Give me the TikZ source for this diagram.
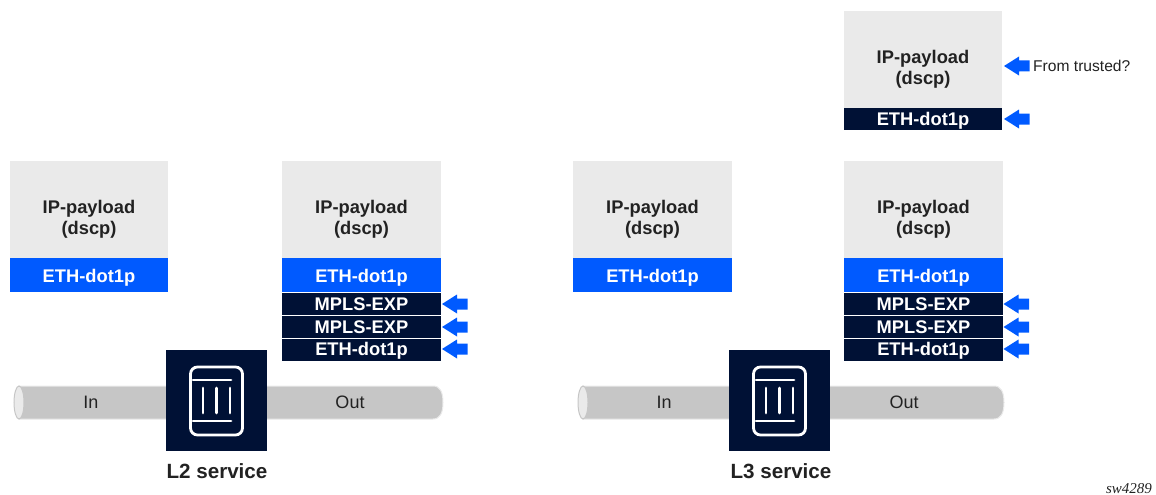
\documentclass[tikz,border=0pt]{standalone}
\usepackage{fontspec}
\setmainfont{Liberation Sans}
\newfontfamily\serifit{Liberation Serif}
\definecolor{navy}{HTML}{001135}
\definecolor{bblue}{HTML}{005AFF}
\definecolor{lgray}{HTML}{EAEAEA}
\definecolor{pipeg}{HTML}{C6C6C6}
\definecolor{txt}{HTML}{222222}
\newcommand{\lowerstrut}{\rule{0pt}{33pt}}
\tikzset{
  x=1pt,y=-1pt,
  blk/.style={inner sep=0pt,outer sep=0pt,minimum width=158.5pt,align=center,font=\fontsize{18.3pt}{21.5pt}\selectfont\bfseries},
  payload/.style={blk,fill=lgray,text=txt,minimum height=97pt},
  bluebar/.style={blk,fill=bblue,text=white,minimum height=34pt,text height=15pt,text depth=0pt},
  navytall/.style={blk,fill=navy,text=white,minimum height=22.5pt,text height=13pt,text depth=0pt},
  navylow/.style={navytall,text height=11pt},
  device/.style={fill=navy,minimum width=101pt,minimum height=101pt,inner sep=0pt,outer sep=0pt},
  caption/.style={inner sep=0pt,text=txt,font=\fontsize{20.6pt}{24pt}\selectfont\bfseries},
  pipelabel/.style={inner sep=0pt,text=txt,font=\fontsize{18pt}{20pt}\selectfont},
  note/.style={inner sep=0pt,text=txt,font=\fontsize{15.6pt}{18pt}\selectfont},
  icon/.style={draw=white,line width=2.8pt,line cap=round},
  pipebody/.style={fill=pipeg,draw=lgray,line width=1pt},
  pipeend/.style={fill=lgray,draw=pipeg,line width=1pt},
  pics/leftarrow/.style={code={
    \fill[bblue] (0,0) -- (15,-9.5) -- (15,-5.5) -- (25.5,-5.5) -- (25.5,5.5) -- (15,5.5) -- (15,9.5) -- cycle;
  }},
  pics/switch/.style={code={
    \draw[icon,rounded corners=7pt] (-26,-33.5) rectangle (26,34.5);
    \draw[icon] (-23.5,-20.5) -- (14.5,-20.5);
    \draw[icon] (-23.5,20.5) -- (14.5,20.5);
    \draw[icon] (-13.5,-12.5) -- (-13.5,12.5);
    \draw[icon] (0,-12.5) -- (0,12.5);
    \draw[icon] (13.5,-12.5) -- (13.5,12.5);
  }},
}
\begin{document}
\begin{tikzpicture}
\useasboundingbox (0,0) rectangle (1156,495);

% ---- pipes
\path[pipebody] (19,386) -- (433,386) .. controls (440,386) and (443,392) .. (443,402.5)
  .. controls (443,413) and (440,419) .. (433,419) -- (19,419) -- cycle;
\path[pipeend] (19,402.5) ellipse [x radius=5, y radius=16.5];
\path[pipebody] (583,386) -- (994,386) .. controls (1001,386) and (1004,392) .. (1004,402.5)
  .. controls (1004,413) and (1001,419) .. (994,419) -- (583,419) -- cycle;
\path[pipeend] (583,402.5) ellipse [x radius=5, y radius=16.5];
\node[pipelabel] (inA) at (91,402) {In};
\node[pipelabel] (outA) at (350,402) {Out};
\node[pipelabel] (inB) at (664,402) {In};
\node[pipelabel] (outB) at (904,402) {Out};

% ---- L2 stacks
\node[payload] (pa) at (89,209.5) {\lowerstrut IP-payload\\(dscp)};
\node[bluebar] (ba) at (89,275) {ETH-dot1p};
\node[payload] (pb) at (361.5,209.5) {\lowerstrut IP-payload\\(dscp)};
\node[bluebar] (bb) at (361.5,275) {ETH-dot1p};
\node[navytall] (mb1) at (361.5,304) {MPLS-EXP};
\node[navytall] (mb2) at (361.5,327) {MPLS-EXP};
\node[navylow] (eb) at (361.5,350) {ETH-dot1p};

% ---- L3 stacks
\node[payload] (pc) at (652.5,209.5) {\lowerstrut IP-payload\\(dscp)};
\node[bluebar] (bc) at (652.5,275) {ETH-dot1p};
\node[payload] (pd) at (923.5,209.5) {\lowerstrut IP-payload\\(dscp)};
\node[bluebar] (bd) at (923.5,275) {ETH-dot1p};
\node[navytall] (md1) at (923.5,304) {MPLS-EXP};
\node[navytall] (md2) at (923.5,327) {MPLS-EXP};
\node[navylow] (ed) at (923.5,350) {ETH-dot1p};
\node[payload] (pe) at (923,59.5) {\lowerstrut IP-payload\\(dscp)};
\node[navytall] (ee) at (923,119) {ETH-dot1p};

% ---- arrows
\path (442,304) pic {leftarrow};
\path (442,327) pic {leftarrow};
\path (442,349) pic {leftarrow};
\path (1003.5,304) pic {leftarrow};
\path (1003.5,327) pic {leftarrow};
\path (1003.5,349) pic {leftarrow};
\path (1004,66) pic {leftarrow};
\path (1004,119) pic {leftarrow};
\node[note,anchor=west] (trusted) at (1033,66) {From trusted?};

% ---- devices
\node[device] (l2) at (216.5,400.5) {};
\path (l2.center) pic {switch};
\node[device] (l3) at (779.5,400.5) {};
\path (l3.center) pic {switch};
\node[caption] (l2c) at (217,471) {L2 service};
\node[caption] (l3c) at (781,471) {L3 service};

\node[inner sep=0pt,text=txt,font=\fontsize{15pt}{17pt}\selectfont\serifit\itshape] (ref) at (1129,489) {sw4289};
\end{tikzpicture}
\end{document}
